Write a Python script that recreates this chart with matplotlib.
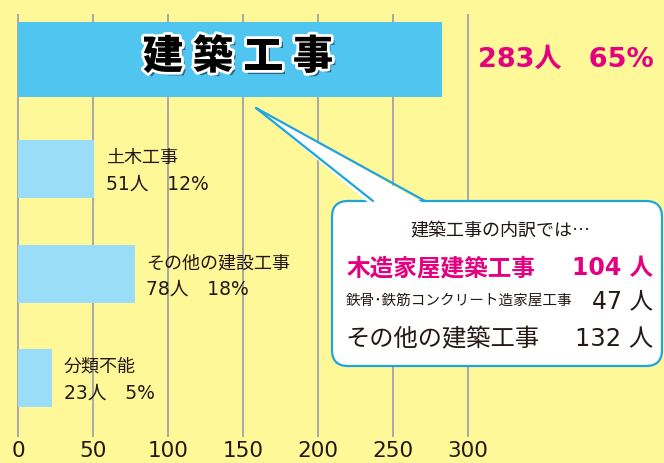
import matplotlib
matplotlib.use("Agg")
import matplotlib.pyplot as plt
import matplotlib.patheffects as pe
from matplotlib.patches import FancyBboxPatch, Polygon

plt.rcParams['font.family'] = ['Noto Sans CJK JP', 'DejaVu Sans']
NUMFONT = ['DejaVu Sans', 'Noto Sans CJK JP']

# ---- data ----
categories = ["建築工事", "土木工事", "その他の建設工事", "分類不能"]
people = [283, 51, 78, 23]
shares = [65, 12, 18, 5]
ticks = [0, 50, 100, 150, 200, 250, 300]
breakdown_labels = ["木造家屋建築工事", "鉄骨･鉄筋コンクリート造家屋工事", "その他の建築工事"]
breakdown_people = [104, 47, 132]
callout_title = "建築工事の内訳では…"

BG = "#FFF899"
BIG = "#50C5F0"
SMALL = "#9ADDF8"
MAGENTA = "#E5007F"
BLUE = "#1EA5E0"
DARK = "#231815"

fig = plt.figure(figsize=(6.64, 4.63), dpi=100)
fig.patch.set_facecolor(BG)
ax = fig.add_axes([0, 0, 1, 1])
ax.set_facecolor(BG)
ax.set_xlim(-12, 430.67)
ax.set_ylim(463, 0)
ax.axis("off")

# gridlines
ax.vlines(ticks, 14, 437, color="#A8A8A8", lw=1.4, zorder=1)
for t in ticks:
    ax.text(t, 451, str(t), ha="center", va="center", fontsize=15.5, color=DARK,
            family=NUMFONT)

# bars
centers = [59.5, 169, 274, 378]
heights = [75, 57.7, 57.7, 57.7]
colors = [BIG, SMALL, SMALL, SMALL]
ax.barh(centers, people, height=heights, color=colors, left=0, zorder=2)

# big bar title, spaced characters
title_fx = [pe.SimplePatchShadow(offset=(2.5, -2.5), shadow_rgbFace="#1a3a55", alpha=0.7),
            pe.Stroke(linewidth=4, foreground="white"), pe.Normal()]
for i, ch in enumerate(categories[0]):
    xv = (238 - 18) / 1.5 + (i - 1.5) * 50 / 1.5
    ax.text(xv, 57, ch, ha="center", va="center", fontsize=29, fontweight="heavy",
            color="black", path_effects=title_fx, zorder=4)

ax.text(people[0] + 24, 60, f"{people[0]}人　{shares[0]}%", ha="left", va="center",
        fontsize=19.5, fontweight="bold", color=MAGENTA, zorder=4, family=NUMFONT)

for c, n, s, yc in zip(categories[1:], people[1:], shares[1:], centers[1:]):
    ax.text(n + 7.5, yc - 11, c, ha="left", va="center", fontsize=13, color=DARK, zorder=4)
    ax.text(n + 7.5, yc + 15, f"{n}人　{s}%", ha="left", va="center", fontsize=13.5,
            color=DARK, zorder=4, family=NUMFONT)

# callout overlay in pixel coordinates
ov = fig.add_axes([0, 0, 1, 1])
ov.set_xlim(0, 664)
ov.set_ylim(463, 0)
ov.axis("off")
ov.patch.set_alpha(0)

box = FancyBboxPatch((332, 201), 330, 165, boxstyle="round,pad=0,rounding_size=16",
                     facecolor="white", edgecolor=BLUE, lw=1.6, zorder=5)
ov.add_patch(box)
ov.add_patch(Polygon([(256, 108), (371, 205), (427, 205)], closed=True,
                     facecolor="white", edgecolor="none", zorder=6))
ov.plot([256, 373], [108, 201], color=BLUE, lw=1.6, zorder=7, solid_capstyle="round")
ov.plot([256, 425], [108, 201], color=BLUE, lw=1.6, zorder=7, solid_capstyle="round")

ov.text(500, 231, callout_title, ha="center", va="center", fontsize=13, color=DARK, zorder=8)
ov.text(347, 268, breakdown_labels[0], ha="left", va="center", fontsize=17,
        fontweight="bold", color=MAGENTA, zorder=8)
ov.text(653, 268, f"{breakdown_people[0]} 人", ha="right", va="center", fontsize=17,
        fontweight="bold", color=MAGENTA, zorder=8, family=NUMFONT)
ov.text(346, 301, breakdown_labels[1], ha="left", va="center", fontsize=10.5,
        color=DARK, zorder=8)
ov.text(653, 301, f"{breakdown_people[1]} 人", ha="right", va="center", fontsize=17,
        color=DARK, zorder=8, family=NUMFONT)
ov.text(346, 339, breakdown_labels[2], ha="left", va="center", fontsize=17.5,
        color=DARK, zorder=8)
ov.text(653, 339, f"{breakdown_people[2]} 人", ha="right", va="center", fontsize=17.5,
        color=DARK, zorder=8, family=NUMFONT)

fig.savefig("out.png", dpi=100, facecolor=BG)
